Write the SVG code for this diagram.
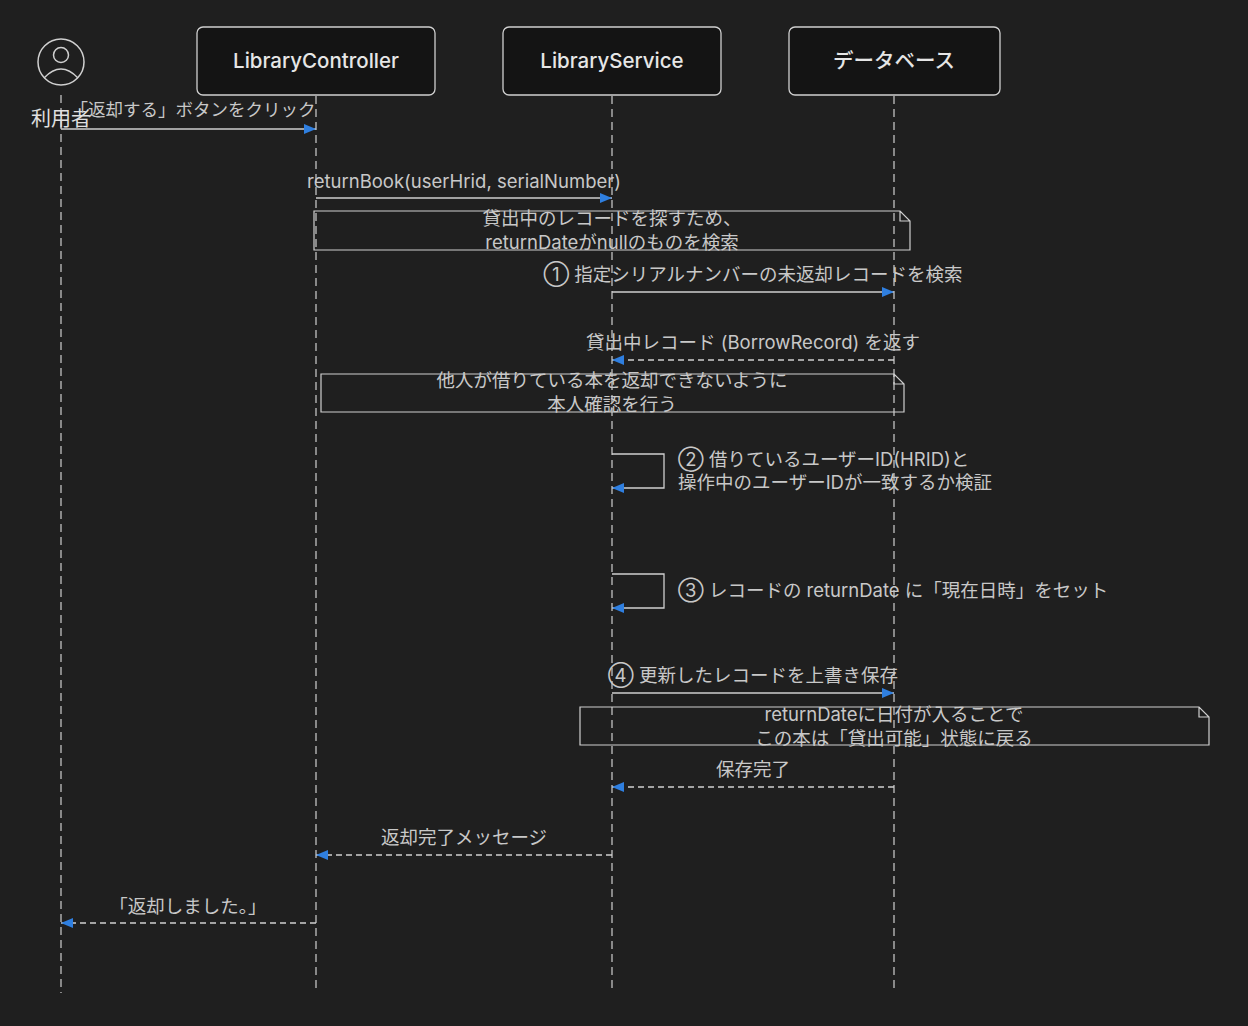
<svg xmlns="http://www.w3.org/2000/svg" width="1248" height="1026" viewBox="0 0 1248 1026">
<style>
text{font-family:"Inter","Noto Sans CJK JP",sans-serif;fill:#c8c8c8;font-size:18.5px}
.actor{fill:#141414;stroke:#d0d0d0;stroke-width:1.3}
.an{fill:#e6e6e6;font-size:20.5px;font-weight:500}
.life{stroke:#cfcfcf;stroke-width:1.2;stroke-dasharray:8,5;fill:none}
.msg{stroke:#cfcfcf;stroke-width:1.3;fill:none}
.dash{stroke-dasharray:6,4}
.note{fill:none;stroke:#cfcfcf;stroke-width:1.2}
</style>
<defs><marker id="ah" markerWidth="12" markerHeight="10" refX="12" refY="5" orient="auto" markerUnits="userSpaceOnUse"><path d="M0,0L12,5L0,10z" fill="#2f7fe0"/></marker></defs>
<rect width="1248" height="1026" fill="#1f1f1f"/>
<g id="lifelines">
<line class="life" x1="61" y1="95" x2="61" y2="993"/>
<line class="life" x1="316" y1="96" x2="316" y2="993"/>
<line class="life" x1="612" y1="96" x2="612" y2="993"/>
<line class="life" x1="894" y1="96" x2="894" y2="993"/>
</g>
<g id="user"><circle cx="61" cy="62" r="23" fill="none" stroke="#d0d0d0" stroke-width="1.5"/><circle cx="61" cy="55" r="7.5" fill="none" stroke="#d0d0d0" stroke-width="1.5"/><path d="M44,78 Q61,60 78,78" fill="none" stroke="#d0d0d0" stroke-width="1.5"/><text x="61" y="126" text-anchor="middle" style="font-size:20px;fill:#e0e0e0">利用者</text></g>
<g id="ctrl"><rect class="actor" x="197" y="27" width="238" height="68" rx="6"/><text class="an" x="316" y="68" text-anchor="middle">LibraryController</text></g>
<g id="svc"><rect class="actor" x="503" y="27" width="218" height="68" rx="6"/><text class="an" x="612" y="68" text-anchor="middle">LibraryService</text></g>
<g id="db"><rect class="actor" x="789" y="27" width="211" height="68" rx="6"/><text class="an" x="894" y="68" text-anchor="middle">データベース</text></g>
<g id="connectors">
<line class="msg" x1="61" y1="129" x2="316" y2="129" marker-end="url(#ah)"/>
<text x="193" y="116" text-anchor="middle" style="font-size:17.5px">「返却する」ボタンをクリック</text>
<line class="msg" x1="316" y1="198" x2="612" y2="198" marker-end="url(#ah)"/>
<text x="464" y="188" text-anchor="middle">returnBook(userHrid, serialNumber)</text>
<line class="msg" x1="612" y1="292" x2="894" y2="292" marker-end="url(#ah)"/>
<text x="753" y="281" text-anchor="middle">① 指定シリアルナンバーの未返却レコードを検索</text>
<line class="msg dash" x1="894" y1="360" x2="612" y2="360" marker-end="url(#ah)"/>
<text x="753" y="349" text-anchor="middle">貸出中レコード (BorrowRecord) を返す</text>
<path class="msg" d="M612,454H664V488H612" marker-end="url(#ah)"/>
<text x="678" y="466">② 借りているユーザーID(HRID)と</text>
<text x="678" y="489">操作中のユーザーIDが一致するか検証</text>
<path class="msg" d="M612,574H664V608H612" marker-end="url(#ah)"/>
<text x="678" y="597">③ レコードの returnDate に「現在日時」をセット</text>
<line class="msg" x1="612" y1="693" x2="894" y2="693" marker-end="url(#ah)"/>
<text x="753" y="682" text-anchor="middle">④ 更新したレコードを上書き保存</text>
<line class="msg dash" x1="894" y1="787" x2="612" y2="787" marker-end="url(#ah)"/>
<text x="753" y="776" text-anchor="middle">保存完了</text>
<line class="msg dash" x1="612" y1="855" x2="316" y2="855" marker-end="url(#ah)"/>
<text x="464" y="844" text-anchor="middle">返却完了メッセージ</text>
<line class="msg dash" x1="316" y1="923" x2="61" y2="923" marker-end="url(#ah)"/>
<text x="188" y="913" text-anchor="middle">「返却しました。」</text>
</g>
<g id="note1"><path class="note" d="M314,211H900L910,221V250H314Z M900,211V221H910"/><text x="612" y="225" text-anchor="middle">貸出中のレコードを探すため、</text><text x="612" y="249" text-anchor="middle">returnDateがnullのものを検索</text></g>
<g id="note2"><path class="note" d="M321,374H894L904,384V412H321Z M894,374V384H904"/><text x="612" y="387" text-anchor="middle">他人が借りている本を返却できないように</text><text x="612" y="411" text-anchor="middle">本人確認を行う</text></g>
<g id="note3"><path class="note" d="M580,707H1199L1209,717V745H580Z M1199,707V717H1209"/><text x="894" y="721" text-anchor="middle">returnDateに日付が入ることで</text><text x="894" y="745" text-anchor="middle">この本は「貸出可能」状態に戻る</text></g>
</svg>
